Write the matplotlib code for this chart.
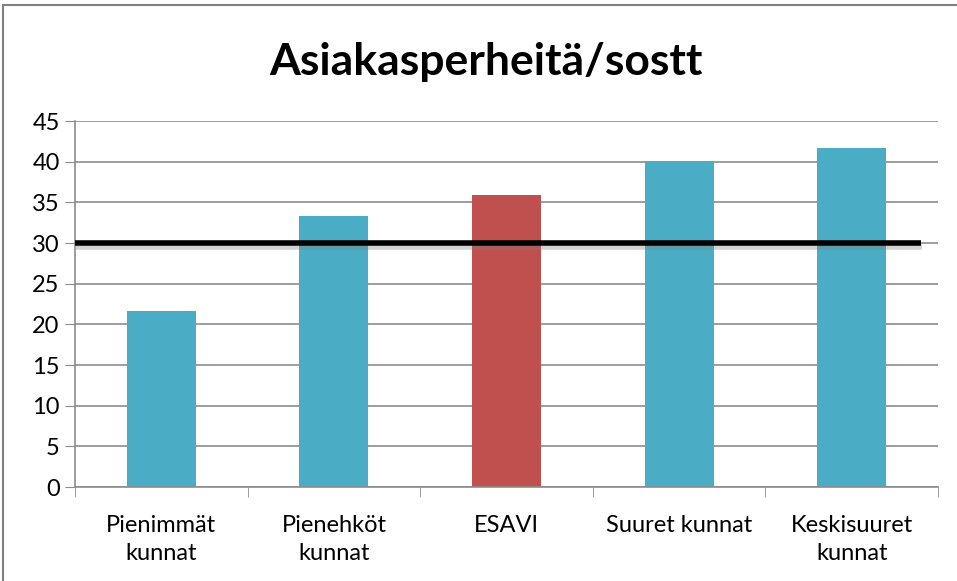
import matplotlib
matplotlib.use("Agg")
import matplotlib.pyplot as plt
import matplotlib.patheffects as pe
from matplotlib.patches import Rectangle

categories = ["Pienimmät\nkunnat", "Pienehköt\nkunnat", "ESAVI", "Suuret kunnat", "Keskisuuret\nkunnat"]
values = [21.6, 33.3, 35.9, 40.1, 41.7]
bar_colors = ["#4BACC6", "#4BACC6", "#C0504D", "#4BACC6", "#4BACC6"]
reference_level = 30
y_ticks = list(range(0, 50, 5))

plt.rcParams["font.family"] = ["Lato", "DejaVu Sans"]

fig = plt.figure(figsize=(9.57, 5.81), dpi=100)
ax = fig.add_axes([75 / 957, 1 - 487 / 581, (938 - 75) / 957, (487 - 121) / 581])

x = list(range(len(categories)))
ax.bar(x, values, width=0.4, color=bar_colors, zorder=2)

# reference line with a soft shadow
ax.plot([-0.5, 4.4], [reference_level, reference_level], color="black", lw=4,
        solid_capstyle="butt", zorder=3,
        path_effects=[pe.SimpleLineShadow(offset=(1, -3), shadow_color="gray", alpha=0.35, rho=0.5),
                      pe.Normal()])

ax.set_xlim(-0.5, 4.5)
ax.set_ylim(0, 45)
ax.set_yticks(y_ticks)
ax.yaxis.grid(True, color="#8c8c8c", lw=1.2, zorder=0)
ax.set_axisbelow(True)

ax.set_xticks(x)
ax.set_xticklabels(categories, fontsize=17, linespacing=1.45)
ax.set_xticks([i - 0.5 for i in range(len(categories) + 1)], minor=True)
ax.tick_params(axis="x", which="major", length=0, pad=20)
ax.tick_params(axis="x", which="minor", length=7, color="#8c8c8c")
ax.tick_params(axis="y", length=7, color="#8c8c8c", labelsize=17, pad=4)

for side in ("top", "right"):
    ax.spines[side].set_visible(False)
for side in ("left", "bottom"):
    ax.spines[side].set_color("#8c8c8c")
    ax.spines[side].set_linewidth(1.2)

fig.text(486 / 957, 1 - 62 / 581, "Asiakasperheitä/sostt", ha="center", va="center",
         fontsize=32, fontweight="bold")

fig.patches.append(Rectangle((3 / 957, -0.01), 1.1, 1 - 5 / 581 + 0.01, transform=fig.transFigure,
                             fill=False, edgecolor="#7f7f7f", lw=1.5))

fig.savefig("out.png", dpi=100)
